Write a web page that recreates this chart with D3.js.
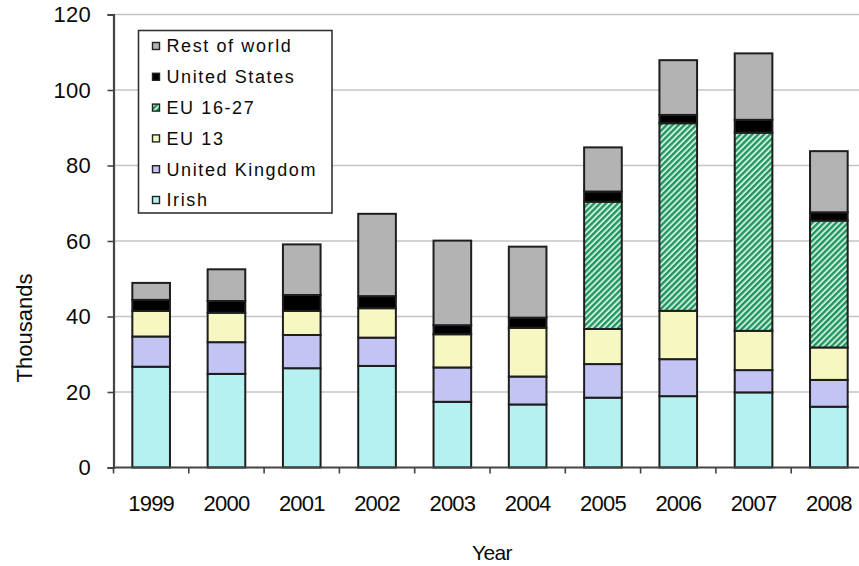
<!DOCTYPE html>
<html>
<head>
<meta charset="utf-8">
<script src="https://cdn.jsdelivr.net/npm/d3@7"></script>
<style>
  html, body { margin: 0; padding: 0; background: #fff; }
  svg { display: block; font-family: "Liberation Sans", Arial, sans-serif; }
</style>
</head>
<body>
<svg id="chart" width="859" height="566"></svg>
<script>
// Immigration by nationality, thousands
const years = ["1999", "2000", "2001", "2002", "2003", "2004", "2005", "2006", "2007", "2008"];
const irish        = [26.7, 24.8, 26.3, 26.9, 17.4, 16.7, 18.5, 18.9, 19.9, 16.1];
const unitedKingdom = [8.0, 8.4, 8.8, 7.5, 9.1, 7.4, 8.9, 9.8, 5.9, 7.1];
const eu13         = [6.8, 7.8, 6.4, 7.8, 8.8, 12.9, 9.3, 12.8, 10.4, 8.6];
const eu16to27     = [0, 0, 0, 0, 0, 0, 33.7, 49.7, 52.5, 33.6];
const unitedStates = [2.9, 3.1, 4.2, 3.2, 2.4, 2.7, 2.7, 2.2, 3.4, 2.2];
const restOfWorld  = [4.5, 8.4, 13.4, 21.8, 22.4, 18.8, 11.7, 14.5, 17.6, 16.2];
const yTicks = [0, 20, 40, 60, 80, 100, 120];

// stacking order, bottom to top
const series = [
  { key: "irish", name: "Irish", values: irish, fill: "#b6f1f1" },
  { key: "uk", name: "United Kingdom", values: unitedKingdom, fill: "#c4c4f4" },
  { key: "eu13", name: "EU 13", values: eu13, fill: "#f7f7c2" },
  { key: "eu1627", name: "EU 16-27", values: eu16to27, fill: "url(#hatch)" },
  { key: "us", name: "United States", values: unitedStates, fill: "#000000" },
  { key: "row", name: "Rest of world", values: restOfWorld, fill: "#b3b3b3" }
];

const rows = years.map((yr, i) => {
  const r = { year: yr };
  series.forEach(s => { r[s.key] = s.values[i]; });
  return r;
});

const svg = d3.select("#chart");
const W = 859, H = 566;
const plotLeft = 113.5, plotBottom = 467.5, plotTop = 14.5;
const step = 75.3;

// hatched fill for EU 16-27
const defs = svg.append("defs");
const pat = defs.append("pattern")
  .attr("id", "hatch")
  .attr("patternUnits", "userSpaceOnUse")
  .attr("width", 4.2).attr("height", 4.2)
  .attr("patternTransform", "rotate(45)");
pat.append("rect").attr("width", 4.2).attr("height", 4.2).attr("fill", "#cdeed6");
pat.append("rect").attr("width", 2.3).attr("height", 4.2).attr("fill", "#1f9464");

const x = d3.scaleBand()
  .domain(years)
  .range([plotLeft, plotLeft + step * years.length])
  .paddingInner(0.5)
  .paddingOuter(0.25);

const y = d3.scaleLinear().domain([0, 120]).range([plotBottom, plotTop]);

// gridlines
svg.append("g")
  .selectAll("line")
  .data(yTicks.filter(t => t > 0))
  .join("line")
  .attr("x1", plotLeft).attr("x2", W)
  .attr("y1", d => y(d)).attr("y2", d => y(d))
  .attr("stroke", "#c4c4c4")
  .attr("stroke-width", 1.6);

// stacked bars
const stack = d3.stack().keys(series.map(s => s.key));
const layers = stack(rows);

svg.append("g")
  .selectAll("g")
  .data(layers)
  .join("g")
  .attr("fill", (d, i) => series[i].fill)
  .selectAll("rect")
  .data(d => d.filter(p => p[1] - p[0] > 0))
  .join("rect")
  .attr("x", d => x(d.data.year))
  .attr("width", x.bandwidth())
  .attr("y", d => y(d[1]))
  .attr("height", d => y(d[0]) - y(d[1]))
  .attr("stroke", "#1e1e1e")
  .attr("stroke-width", 2);

// y axis
const yAxis = d3.axisLeft(y).tickValues(yTicks).tickSize(6).tickPadding(16.5);
const gy = svg.append("g")
  .attr("transform", `translate(${plotLeft},0)`)
  .call(yAxis);
gy.select(".domain").attr("stroke", "#444").attr("stroke-width", 2.2);
gy.selectAll(".tick line").attr("stroke", "#444").attr("stroke-width", 1.6);
gy.selectAll(".tick text")
  .attr("font-size", 22).attr("fill", "#0a0a0a")
  .style("letter-spacing", "0.3px");

// x axis
const xAxis = d3.axisBottom(x).tickSize(0).tickPadding(28);
const gx = svg.append("g")
  .attr("transform", `translate(0,${plotBottom})`)
  .call(xAxis);
gx.select(".domain").remove();
gx.append("line")
  .attr("x1", plotLeft).attr("x2", W)
  .attr("stroke", "#444").attr("stroke-width", 2.2);
gx.selectAll(".tick text")
  .attr("font-size", 22).attr("fill", "#0a0a0a")
  .attr("dy", "0.72em")
  .style("letter-spacing", "-0.8px");

// category boundary ticks
const bounds = d3.range(years.length + 1).map(i => x.range()[0] + i * x.step());
gx.append("g")
  .selectAll("line")
  .data(bounds)
  .join("line")
  .attr("x1", d => d).attr("x2", d => d)
  .attr("y1", 0).attr("y2", 6)
  .attr("stroke", "#444").attr("stroke-width", 1.6);

// axis titles
svg.append("text")
  .attr("transform", "translate(32,328) rotate(-90)")
  .attr("text-anchor", "middle")
  .attr("font-size", 22).attr("fill", "#0a0a0a")
  .text("Thousands");

svg.append("text")
  .attr("x", 492).attr("y", 560)
  .attr("text-anchor", "middle")
  .attr("font-size", 21).attr("fill", "#0a0a0a")
  .style("letter-spacing", "-0.6px")
  .text("Year");

// legend
const legend = svg.append("g");
legend.append("rect")
  .attr("x", 138.5).attr("y", 30.5)
  .attr("width", 193.5).attr("height", 182.5)
  .attr("fill", "#fff")
  .attr("stroke", "#333").attr("stroke-width", 1.6);

const legendItems = series.slice().reverse();
const li = legend.selectAll("g.item")
  .data(legendItems)
  .join("g")
  .attr("class", "item")
  .attr("transform", (d, i) => `translate(152.5,${46 + i * 30.8})`);
li.append("rect")
  .attr("x", 0).attr("y", -3.5)
  .attr("width", 7).attr("height", 7)
  .attr("fill", d => d.fill)
  .attr("stroke", "#222").attr("stroke-width", 1.4);
li.append("text")
  .attr("x", 14).attr("y", 0)
  .attr("dy", "0.36em")
  .attr("font-size", 18).attr("fill", "#0a0a0a")
  .style("letter-spacing", "1.6px")
  .text(d => d.name);
</script>
</body>
</html>
